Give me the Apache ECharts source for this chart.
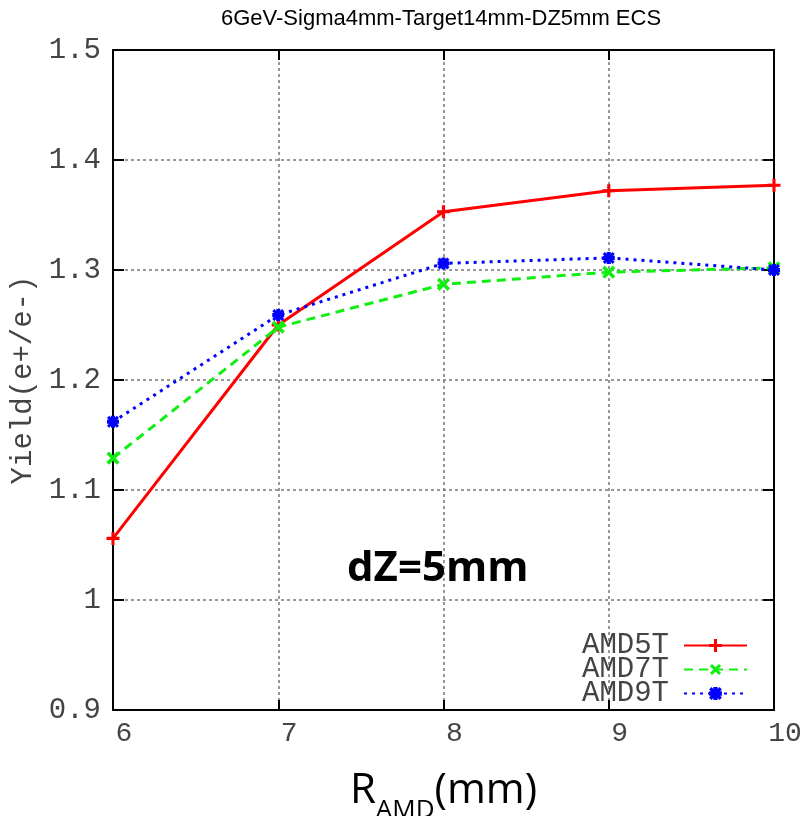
<!DOCTYPE html>
<html>
<head>
<meta charset="utf-8">
<script src="https://cdn.jsdelivr.net/npm/echarts@6/dist/echarts.min.js"></script>
<style>html,body{margin:0;padding:0;background:#fff}#c{width:803px;height:816px}</style>
</head>
<body>
<div id="c"></div>
<script>
const radii = [6, 7, 8, 9, 10];
const amd5T = [1.056, 1.250, 1.353, 1.372, 1.377];
const amd7T = [1.129, 1.248, 1.287, 1.298, 1.302];
const amd9T = [1.162, 1.259, 1.306, 1.311, 1.300];
const seriesNames = ['AMD5T', 'AMD7T', 'AMD9T'];
const xTickLabels = ['6', '7', '8', '9', '10'];
const yTickLabels = ['0.9', '1', '1.1', '1.2', '1.3', '1.4', '1.5'];
const titleText = '6GeV-Sigma4mm-Target14mm-DZ5mm ECS';
const annotation = 'dZ=5mm';

const mono = "'Liberation Mono', 'DejaVu Sans Mono', monospace";
const sans = "'Open Sans', Lato, sans-serif";
const plusPath = 'path://M3.8,0H6.2V3.8H10V6.2H6.2V10H3.8V6.2H0V3.8H3.8Z';
const starPath = 'path://M3.3,0H6.7V3.3H10V6.7H6.7V10H3.3V6.7H0V3.3H3.3Z M0,1.8L1.8,0L5,3.2L8.2,0L10,1.8L6.8,5L10,8.2L8.2,10L5,6.8L1.8,10L0,8.2L3.2,5Z';

function pairs(ys) { return radii.map((x, i) => [x, ys[i]]); }

const chart = echarts.init(document.getElementById('c'), null, {renderer: 'canvas'});
const xBase = {type: 'value', min: 6, max: 10, interval: 1, gridIndex: 0};
const yBase = {type: 'value', min: 0.9, max: 1.5, interval: 0.1, gridIndex: 0};
const frameLine = {show: true, onZero: false, lineStyle: {color: '#000', width: 2}};
chart.setOption({
  animation: false,
  backgroundColor: '#ffffff',
  title: [
    {text: titleText, left: 216, top: 3,
     textStyle: {fontFamily: "'Liberation Sans', Arial, sans-serif", fontSize: 22, fontWeight: 'normal', color: '#000'}},
    {text: annotation, left: 342, top: 543,
     textStyle: {fontFamily: sans, fontSize: 42, fontWeight: 'bold', color: '#000'}}
  ],
  grid: {left: 113, right: 29, top: 50, bottom: 106, outerBoundsMode: 'none', containLabel: false},
  legend: {
    orient: 'vertical', right: 50, top: 626, align: 'right',
    itemWidth: 63, itemHeight: 16, itemGap: -5,
    data: seriesNames,
    textStyle: {fontFamily: mono, fontSize: 29, color: '#444', padding: [0, 10, 0, 0]}
  },
  xAxis: [
    Object.assign({}, xBase, {
      position: 'bottom',
      name: '{a|R}{b|AMD}{a|(mm)}', nameLocation: 'middle', nameGap: 48,
      nameTextStyle: {
        rich: {
          a: {fontFamily: sans, fontSize: 42, color: '#000', lineHeight: 66},
          b: {fontFamily: sans, fontSize: 26, color: '#000', lineHeight: 12, verticalAlign: 'bottom'}
        }
      },
      axisLine: frameLine,
      axisTick: {show: true, inside: true, length: 10, lineStyle: {color: '#000', width: 2}},
      axisLabel: {
        show: true, margin: 10, padding: [0, 0, 0, 22],
        fontFamily: mono, fontSize: 28, color: '#444',
        formatter: v => xTickLabels[Math.round(v - 6)]
      },
      splitLine: {show: true, lineStyle: {color: '#777', width: 1.5, type: [3, 3]}}
    }),
    Object.assign({}, xBase, {
      position: 'top',
      axisLine: frameLine,
      axisTick: {show: true, inside: true, length: 10, lineStyle: {color: '#000', width: 2}},
      axisLabel: {show: false},
      splitLine: {show: false}
    })
  ],
  yAxis: [
    Object.assign({}, yBase, {
      position: 'left',
      name: 'Yield(e+/e-)', nameLocation: 'middle', nameGap: 70,
      nameTextStyle: {fontFamily: mono, fontSize: 29, color: '#444'},
      axisLine: frameLine,
      axisTick: {show: true, inside: true, length: 11, lineStyle: {color: '#000', width: 2}},
      axisLabel: {
        show: true, margin: 12,
        fontFamily: mono, fontSize: 29, color: '#444',
        formatter: v => yTickLabels[Math.round((v - 0.9) / 0.1)]
      },
      splitLine: {show: true, lineStyle: {color: '#777', width: 1.5, type: [3, 3]}}
    }),
    Object.assign({}, yBase, {
      position: 'right',
      axisLine: frameLine,
      axisTick: {show: true, inside: true, length: 11, lineStyle: {color: '#000', width: 2}},
      axisLabel: {show: false},
      splitLine: {show: false}
    })
  ],
  series: [
    {
      name: seriesNames[0], type: 'line', data: pairs(amd5T),
      xAxisIndex: 0, yAxisIndex: 0,
      symbol: plusPath, symbolSize: 13,
      lineStyle: {color: '#ff0000', width: 3, type: 'solid'},
      itemStyle: {color: '#ff0000'}, z: 3
    },
    {
      name: seriesNames[1], type: 'line', data: pairs(amd7T),
      xAxisIndex: 0, yAxisIndex: 0,
      symbol: plusPath, symbolSize: 15, symbolRotate: 45,
      lineStyle: {color: '#11ee11', width: 3, type: [9, 6]},
      itemStyle: {color: '#11ee11'}, z: 4
    },
    {
      name: seriesNames[2], type: 'line', data: pairs(amd9T),
      xAxisIndex: 0, yAxisIndex: 0,
      symbol: starPath, symbolSize: 12,
      lineStyle: {color: '#0000ff', width: 3, type: [3, 5]},
      itemStyle: {color: '#0000ff'}, z: 5
    }
  ]
});
</script>
</body>
</html>
